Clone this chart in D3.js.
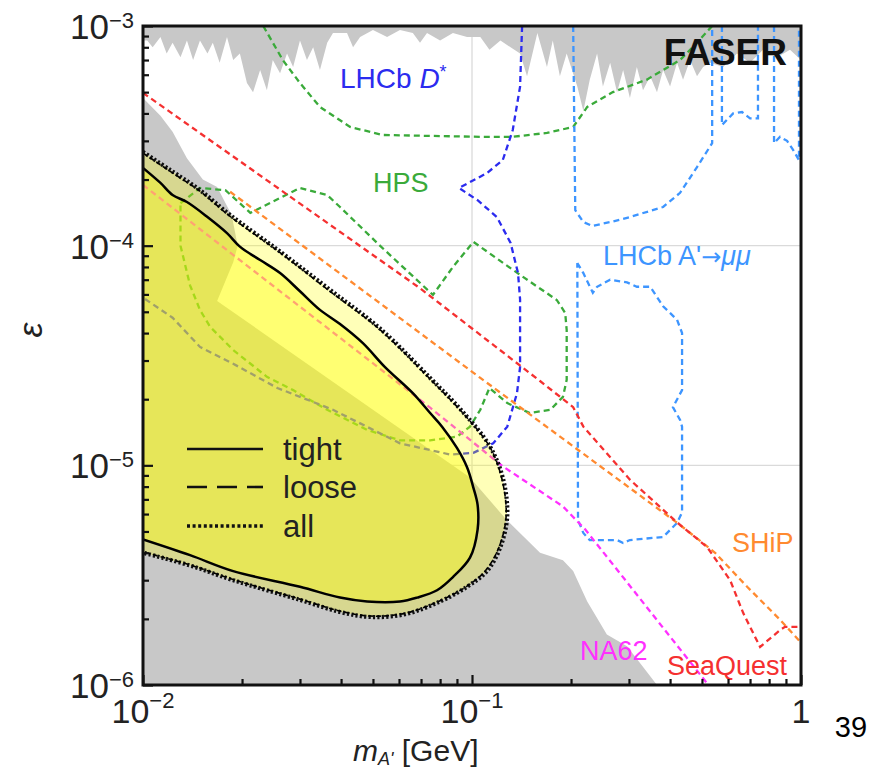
<!DOCTYPE html>
<html><head><meta charset="utf-8">
<script src="https://cdn.jsdelivr.net/npm/d3@7"></script>
<style>
body{margin:0;background:#fff}
svg{display:block}
text{font-family:"Liberation Sans",Arial,Helvetica,sans-serif}
</style>
</head><body>
<svg id="c" width="879" height="769"></svg>
<script>
// ---------------- data (m_A' [GeV], epsilon) ----------------
const yMajorTicks = [1e-6, 1e-5, 1e-4, 1e-3];
const yTickExponents = ["\u22126", "\u22125", "\u22124", "\u22123"];
const xMajorTicks = [0.01, 0.1, 1];
const xTickExponents = ["\u22122", "\u22121", null];
const minorMultipliers = [2, 3, 4, 5, 6, 7, 8, 9];
const xGridLines = [0.1];
const yGridLines = [1e-4, 1e-5];

// existing constraints at large coupling (spiky grey band at top)
const topGrayEdge = [[0.0100,1e-3],[0.0100,8.6e-4],[0.0103,8.6e-4],[0.0107,8.0e-4],[0.0113,8.9e-4],[0.0118,7.5e-4],[0.0123,8.4e-4],[0.0130,7.2e-4],[0.0136,8.6e-4],[0.0142,7.0e-4],[0.0149,8.6e-4],[0.0157,7.5e-4],[0.0163,8.4e-4],[0.0171,6.8e-4],[0.0180,8.9e-4],[0.0188,7.0e-4],[0.0197,7.5e-4],[0.0207,5.5e-4],[0.0216,5.0e-4],[0.0227,6.3e-4],[0.0238,5.1e-4],[0.0248,7.0e-4],[0.0261,6.1e-4],[0.0274,7.5e-4],[0.0286,6.5e-4],[0.0300,8.6e-4],[0.0315,7.0e-4],[0.0329,8.0e-4],[0.0345,6.3e-4],[0.0363,8.4e-4],[0.0378,9.3e-4],[0.0417,9.3e-4],[0.0435,8.0e-4],[0.0457,8.9e-4],[0.0500,9.6e-4],[0.0552,8.9e-4],[0.0604,9.6e-4],[0.0661,9.3e-4],[0.0695,8.4e-4],[0.0730,9.3e-4],[0.0800,8.6e-4],[0.0875,9.3e-4],[0.0966,8.9e-4],[0.106,8.9e-4],[0.113,7.8e-4],[0.122,8.6e-4],[0.131,8.0e-4],[0.140,7.5e-4],[0.147,5.9e-4],[0.158,9.3e-4],[0.169,6.5e-4],[0.176,8.6e-4],[0.185,5.9e-4],[0.194,7.5e-4],[0.209,5.3e-4],[0.218,4.1e-4],[0.228,5.7e-4],[0.240,7.5e-4],[0.250,5.3e-4],[0.263,6.8e-4],[0.276,5.0e-4],[0.288,6.3e-4],[0.302,4.7e-4],[0.317,6.5e-4],[0.331,5.1e-4],[0.348,5.9e-4],[0.365,5.0e-4],[0.381,6.3e-4],[0.400,5.3e-4],[0.420,6.8e-4],[0.438,5.7e-4],[0.460,7.0e-4],[0.483,5.9e-4],[0.504,6.5e-4],[0.529,6.8e-4],[0.580,6.5e-4],[0.639,7.5e-4],[0.700,6.8e-4],[0.767,7.8e-4],[0.846,7.2e-4],[0.926,7.8e-4],[1.0,7.0e-4],[1.0,1e-3]];

// beam-dump constraints (grey region bottom-left)
const lowerGrayEdge = [[0.0100,4.7e-4],[0.0113,3.9e-4],[0.0123,3.3e-4],[0.0136,2.5e-4],[0.0152,2.0e-4],[0.0168,1.85e-4],[0.0186,1.38e-4],[0.0194,1.0e-4],[0.0188,8.4e-5],[0.0168,5.6e-5],[0.0986,8.8e-6],[0.128,5.6e-6],[0.161,4.0e-6],[0.189,3.7e-6],[0.203,3.3e-6],[0.224,2.4e-6],[0.257,1.7e-6],[0.296,1.5e-6],[0.365,1.0e-6],[0.0100,1.0e-6]];

// FASER reach
const faserTight = [[0.0100,2.26e-4],[0.0113,1.93e-4],[0.0123,1.70e-4],[0.0136,1.58e-4],[0.0157,1.35e-4],[0.0180,1.14e-4],[0.0197,9.9e-5],[0.0227,8.6e-5],[0.0261,7.5e-5],[0.0300,6.2e-5],[0.0345,5.1e-5],[0.0397,4.4e-5],[0.0466,3.6e-5],[0.0544,2.8e-5],[0.0661,2.13e-5],[0.0746,1.73e-5],[0.0811,1.5e-5],[0.0900,1.2e-5],[0.0966,9.8e-6],[0.101,7.9e-6],[0.104,6.6e-6],[0.104,5.1e-6],[0.0986,3.8e-6],[0.0875,3.1e-6],[0.0783,2.7e-6],[0.0681,2.5e-6],[0.0604,2.4e-6],[0.0480,2.4e-6],[0.0397,2.5e-6],[0.0300,2.8e-6],[0.0188,3.3e-6],[0.0139,3.9e-6],[0.0100,4.6e-6]];
const faserLoose = [[0.0100,2.64e-4],[0.0121,2.18e-4],[0.0149,1.77e-4],[0.0184,1.36e-4],[0.0261,9.3e-5],[0.0370,6.2e-5],[0.0525,4.15e-5],[0.0746,2.47e-5],[0.0938,1.73e-5],[0.113,1.22e-5],[0.123,8.8e-6],[0.127,5.9e-6],[0.121,4.27e-6],[0.110,3.32e-6],[0.0966,2.82e-6],[0.0800,2.42e-6],[0.0626,2.12e-6],[0.0490,2.06e-6],[0.0397,2.17e-6],[0.0300,2.46e-6],[0.0188,3.02e-6],[0.0139,3.52e-6],[0.0100,4.03e-6]];
const faserAll = [[0.0100,2.67e-4],[0.0121,2.21e-4],[0.0149,1.79e-4],[0.0184,1.38e-4],[0.0261,9.4e-5],[0.0370,6.3e-5],[0.0525,4.2e-5],[0.0746,2.5e-5],[0.0938,1.75e-5],[0.113,1.23e-5],[0.124,8.8e-6],[0.128,5.9e-6],[0.122,4.25e-6],[0.111,3.3e-6],[0.0966,2.8e-6],[0.0800,2.4e-6],[0.0626,2.1e-6],[0.0490,2.04e-6],[0.0397,2.15e-6],[0.0300,2.44e-6],[0.0188,3.0e-6],[0.0139,3.5e-6],[0.0100,4.0e-6]];

// other experiments (dashed)
const seaQuest = [[0.0100,4.96e-4],[0.0695,6.4e-5],[0.161,2.42e-5],[0.203,1.84e-5],[0.218,1.5e-5],[0.302,8.6e-6],[0.420,5.5e-6],[0.518,4.25e-6],[0.609,3.0e-6],[0.667,2.13e-6],[0.751,1.49e-6],[0.864,1.78e-6],[0.894,1.84e-6],[1.0,1.84e-6]];
const ship = [[0.0184,1.76e-4],[0.106,2.5e-5],[0.429,5.35e-6],[0.548,4.0e-6],[0.686,2.8e-6],[0.864,1.98e-6],[1.0,1.56e-6]];
const na62 = [[0.0100,1.89e-4],[0.0746,1.83e-5],[0.124,9.9e-6],[0.189,6.5e-6],[0.221,5.1e-6],[0.523,1.0e-6]];
const lhcbDstar = [[0.142,1e-3],[0.140,5.3e-4],[0.133,3.36e-4],[0.124,2.45e-4],[0.111,2.14e-4],[0.0913,1.83e-4],[0.104,1.61e-4],[0.119,1.35e-4],[0.131,1.03e-4],[0.138,7.5e-5],[0.140,5.7e-5],[0.140,2.8e-5],[0.137,2.13e-5],[0.128,1.5e-5],[0.116,1.26e-5],[0.101,1.14e-5],[0.0858,1.12e-5],[0.0604,1.26e-5],[0.0378,1.79e-5],[0.0256,2.25e-5],[0.0188,2.9e-5],[0.0149,3.46e-5],[0.0123,4.7e-5],[0.0100,5.8e-5]];
const hpsUpper = [[0.0232,1e-3],[0.0266,7.0e-4],[0.0300,5.5e-4],[0.0345,4.28e-4],[0.0426,3.47e-4],[0.0536,3.19e-4],[0.0746,3.16e-4],[0.106,3.13e-4],[0.133,3.13e-4],[0.169,3.26e-4],[0.203,3.47e-4],[0.224,4.28e-4],[0.268,5.0e-4],[0.340,5.7e-4],[0.429,7.0e-4],[0.483,8.4e-4],[0.537,1e-3]];
const hpsLower = [[0.0130,1.56e-4],[0.0149,1.83e-4],[0.0178,1.79e-4],[0.0212,1.41e-4],[0.0300,1.83e-4],[0.0363,1.70e-4],[0.0397,1.5e-4],[0.0525,1.0e-4],[0.0761,5.97e-5],[0.0875,8.0e-5],[0.101,1.04e-4],[0.140,7.36e-5],[0.181,5.66e-5],[0.192,4.94e-5],[0.194,4.13e-5],[0.194,2.45e-5],[0.189,2.05e-5],[0.173,1.79e-5],[0.150,1.73e-5],[0.128,1.92e-5],[0.113,2.25e-5],[0.106,1.79e-5],[0.0986,1.5e-5],[0.0900,1.35e-5],[0.0746,1.3e-5],[0.0604,1.3e-5],[0.0480,1.45e-5],[0.0363,1.79e-5],[0.0286,2.2e-5],[0.0238,2.53e-5],[0.0188,3.35e-5],[0.0160,4.27e-5],[0.0149,5.1e-5],[0.0139,6.6e-5],[0.0130,1.0e-4],[0.0130,1.56e-4]];
const lhcbMuMuA = [[0.203,1e-3],[0.206,1.45e-4],[0.218,1.28e-4],[0.232,1.23e-4],[0.263,1.28e-4],[0.302,1.35e-4],[0.381,1.5e-4],[0.429,1.74e-4],[0.483,2.28e-4],[0.537,2.93e-4],[0.537,1e-3]];
const lhcbMuMuB = [[0.575,1e-3],[0.575,3.54e-4],[0.622,4.0e-4],[0.662,4.06e-4],[0.700,3.8e-4],[0.740,3.8e-4],[0.740,1e-3]];
const lhcbMuMuC = [[0.828,1e-3],[0.828,2.93e-4],[0.864,3.13e-4],[0.907,3.0e-4],[0.946,2.73e-4],[0.986,2.45e-4],[0.986,1e-3]];
const lhcbMuMuD = [[0.209,8.34e-5],[0.218,7.5e-5],[0.233,6.1e-5],[0.240,6.5e-5],[0.263,7.0e-5],[0.296,6.8e-5],[0.317,6.5e-5],[0.348,6.5e-5],[0.381,5.3e-5],[0.420,4.6e-5],[0.435,4.0e-5],[0.435,2.2e-5],[0.408,1.84e-5],[0.429,1.61e-5],[0.435,1.5e-5],[0.435,6.1e-6],[0.420,5.47e-6],[0.381,4.72e-6],[0.302,4.57e-6],[0.288,4.43e-6],[0.276,4.57e-6],[0.228,4.57e-6],[0.218,4.92e-6],[0.210,5.64e-6],[0.209,8.34e-5]];

const legendLabels = ["tight", "loose", "all"];

// ---------------- drawing ----------------
const L = 143, R = 801, T = 26, B = 685;
const x = d3.scaleLog().domain([0.01, 1]).range([L, R]);
const y = d3.scaleLog().domain([1e-6, 1e-3]).range([B, T]);
const svg = d3.select("#c");
const line = d3.line().x(d => x(d[0])).y(d => y(d[1]));

svg.append("defs").append("clipPath").attr("id", "clip")
  .append("rect").attr("x", L).attr("y", T).attr("width", R - L).attr("height", B - T);
const plot = svg.append("g").attr("clip-path", "url(#clip)");

// grid
plot.selectAll(".gx").data(xGridLines).join("line")
  .attr("x1", d => x(d)).attr("x2", d => x(d)).attr("y1", T).attr("y2", B)
  .attr("stroke", "#dadada").attr("stroke-width", 1.3);
plot.selectAll(".gy").data(yGridLines).join("line")
  .attr("y1", d => y(d)).attr("y2", d => y(d)).attr("x1", L).attr("x2", R)
  .attr("stroke", "#dadada").attr("stroke-width", 1.3);

// grey excluded regions
plot.append("path").attr("d", line(topGrayEdge) + "Z").attr("fill", "#c8c8c8");
plot.append("path").attr("d", line(lowerGrayEdge) + "Z").attr("fill", "#c8c8c8");

// dashed experiment curves
const curves = [
  [hpsUpper, "#3aaa3a"], [hpsLower, "#3aaa3a"],
  [lhcbMuMuA, "#3d95ff"], [lhcbMuMuB, "#3d95ff"], [lhcbMuMuC, "#3d95ff"], [lhcbMuMuD, "#3d95ff"],
  [lhcbDstar, "#2b2bef"],
  [ship, "#ff8a30"], [seaQuest, "#f53030"], [na62, "#ff30ff"]
];
curves.forEach(([d, c]) => {
  plot.append("path").attr("d", line(d)).attr("fill", "none")
    .attr("stroke", c).attr("stroke-width", 2.3).attr("stroke-dasharray", "6,4");
});

// FASER fills
plot.append("path").attr("d", line(faserAll) + "Z").attr("fill", "#ffff00").attr("fill-opacity", 0.28);
plot.append("path").attr("d", line(faserTight) + "Z").attr("fill", "#ffff00").attr("fill-opacity", 0.38);
// FASER contours
const smooth = d3.line().x(d => x(d[0])).y(d => y(d[1])).curve(d3.curveCatmullRom.alpha(0.5));
plot.append("path").attr("d", smooth(faserAll)).attr("fill", "none")
  .attr("stroke", "#111").attr("stroke-width", 4.2).attr("stroke-dasharray", "2.2,2.2");
plot.append("path").attr("d", smooth(faserLoose)).attr("fill", "none")
  .attr("stroke", "#000").attr("stroke-width", 1.6).attr("stroke-dasharray", "5,3");
plot.append("path").attr("d", smooth(faserTight)).attr("fill", "none")
  .attr("stroke", "#000").attr("stroke-width", 2.5);

// legend
const legY = [449, 487, 526];
const legStyles = [
  {w: 2.6, dash: null}, {w: 2.6, dash: "20,10"}, {w: 3.6, dash: "3,2.6"}
];
legendLabels.forEach((lab, i) => {
  svg.append("line").attr("x1", 187).attr("x2", 263).attr("y1", legY[i]).attr("y2", legY[i])
    .attr("stroke", "#111").attr("stroke-width", legStyles[i].w)
    .attr("stroke-dasharray", legStyles[i].dash);
  svg.append("text").attr("x", 283).attr("y", legY[i] + 11).attr("font-size", 31)
    .attr("fill", "#222").text(lab);
});

// curve labels
function label(xp, yp, size, color, parts, opts = {}) {
  const t = svg.append("text").attr("x", xp).attr("y", yp).attr("font-size", size)
    .attr("fill", color).attr("text-anchor", opts.anchor || "start");
  if (opts.bold) t.attr("font-weight", "bold");
  parts.forEach(p => {
    const s = t.append("tspan").text(p.t);
    if (p.i) s.attr("font-style", "italic");
    if (p.fs) s.attr("font-size", p.fs);
    if (p.dy) s.attr("dy", p.dy);
    if (p.ff) s.attr("font-family", p.ff);
  });
  return t;
}
label(787, 65, 37, "#111", [{t: "FASER"}], {anchor: "end", bold: true});
label(340, 88, 28, "#2b2bef", [{t: "LHCb "}, {t: "D", i: true}, {t: "*", fs: 18, dy: -10}]);
label(373, 192, 27, "#3aaa3a", [{t: "HPS"}]);
label(603, 265, 27, "#3d95ff", [{t: "LHCb A'"}, {t: "\u2192", ff: "DejaVu Sans", fs: 24}, {t: "\u03bc\u03bc", i: true}]);
label(732, 552, 27, "#ff8a30", [{t: "SHiP"}]);
label(580, 660, 27, "#ff30ff", [{t: "NA62"}]);
label(667, 675, 27, "#f53030", [{t: "SeaQuest"}]);

// axes
const yMinor = [], xMinor = [];
[1e-6, 1e-5, 1e-4].forEach(b => minorMultipliers.forEach(k => yMinor.push(b * k)));
[0.01, 0.1].forEach(b => minorMultipliers.forEach(k => xMinor.push(b * k)));
const axL1 = svg.append("g").attr("transform", `translate(${L},0)`)
  .call(d3.axisLeft(y).tickValues(yMajorTicks).tickSize(-10).tickFormat(""));
const axL2 = svg.append("g").attr("transform", `translate(${L},0)`)
  .call(d3.axisLeft(y).tickValues(yMinor).tickSize(-6).tickFormat(""));
const axB1 = svg.append("g").attr("transform", `translate(0,${B})`)
  .call(d3.axisBottom(x).tickValues(xMajorTicks).tickSize(-10).tickFormat(""));
const axB2 = svg.append("g").attr("transform", `translate(0,${B})`)
  .call(d3.axisBottom(x).tickValues(xMinor).tickSize(-6).tickFormat(""));
[axL1, axL2, axB1, axB2].forEach(a => {
  a.select(".domain").remove();
  a.selectAll("line").attr("stroke", "#111").attr("stroke-width", 2.2);
});
svg.append("rect").attr("x", L).attr("y", T).attr("width", R - L).attr("height", B - T)
  .attr("fill", "none").attr("stroke", "#111").attr("stroke-width", 3);

// tick labels
yMajorTicks.forEach((v, i) => {
  const t = svg.append("text").attr("x", 134).attr("y", y(v) + 13).attr("text-anchor", "end")
    .attr("fill", "#222");
  t.append("tspan").attr("font-size", 35).text("10");
  t.append("tspan").attr("font-size", 22).attr("dy", -11).text(yTickExponents[i]);
});
xMajorTicks.forEach((v, i) => {
  const t = svg.append("text").attr("x", x(v)).attr("y", 723).attr("text-anchor", "middle")
    .attr("fill", "#222");
  if (xTickExponents[i]) {
    t.append("tspan").attr("font-size", 34).text("10");
    t.append("tspan").attr("font-size", 22).attr("dy", -15).text(xTickExponents[i]);
  } else {
    t.append("tspan").attr("font-size", 34).text("1");
  }
});

// axis titles
const xt = svg.append("text").attr("x", 353).attr("y", 761).attr("fill", "#222").attr("font-size", 30);
xt.append("tspan").attr("font-style", "italic").text("m");
xt.append("tspan").attr("font-style", "italic").attr("font-size", 18).attr("dy", 4).text("A'");
xt.append("tspan").attr("dy", -4).text(" [GeV]");
svg.append("text").attr("transform", "translate(42,330) rotate(-90)").attr("text-anchor", "middle")
  .attr("font-size", 34).attr("fill", "#222").attr("font-style", "italic").text("\u03b5");
svg.append("text").attr("x", 851).attr("y", 737).attr("text-anchor", "middle")
  .attr("font-size", 29).attr("fill", "#000").text("39");
</script>
</body></html>
